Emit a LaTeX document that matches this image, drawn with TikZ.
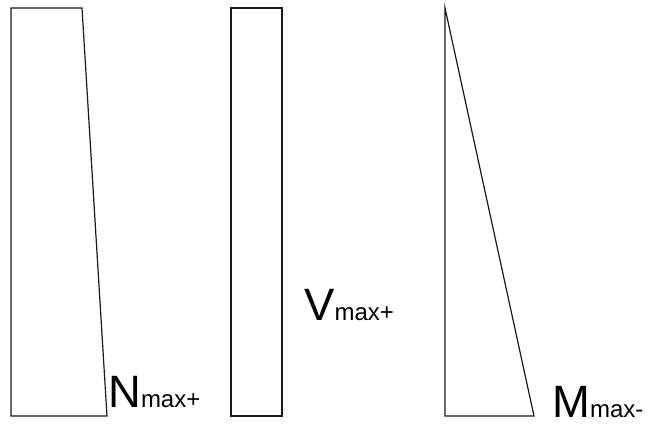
\documentclass[tikz,border=0pt]{standalone}
\usepackage{fontspec}
\setmainfont{Liberation Sans}
\usepackage{tikz}
\usetikzlibrary{positioning}
\newcommand{\lblsub}[1]{{\fontsize{18}{18}\selectfont #1}}

\begin{document}
\begin{tikzpicture}[x=0.75pt, y=-0.75pt,
        dia/.style={draw=black!90, line width=0.9pt, line join=miter},
        lbl/.style={anchor=base west, inner sep=0pt, font=\fontsize{34}{34}\selectfont}]
      \useasboundingbox (0,0) rectangle (652,427);

      % normal force
      \draw[dia] (11,8) -- (82,8) -- (107,416) -- (11,416) -- cycle;
      % shear force
      \draw[dia] (231,8) rectangle (282,416);
      % bending moment
      \draw[dia] (445,8) -- (534,416) -- (445,416) -- cycle;

      \node[lbl] (nmax) at (108,407) {N\lblsub{max+}};
      \node[lbl] (vmax) at (304,320) {V\lblsub{max+}};
      \node[lbl] (mmax) at (552,417) {M\lblsub{max-}};
    \end{tikzpicture}
\end{document}
